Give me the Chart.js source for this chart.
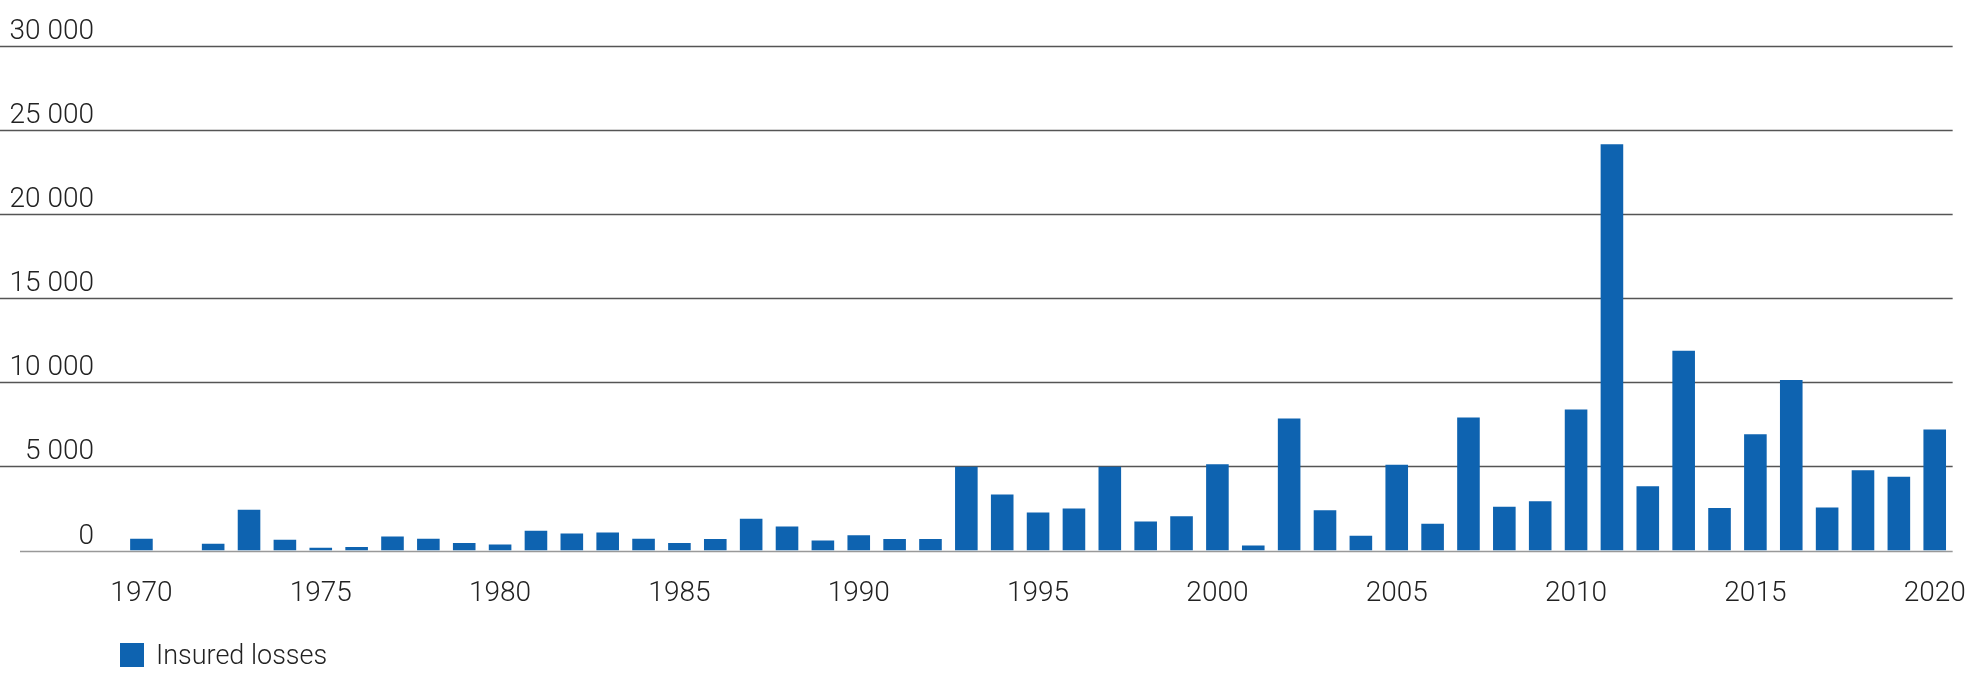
<!DOCTYPE html>
<html><head><meta charset="utf-8">
<script src="https://cdn.jsdelivr.net/npm/chart.js@4"></script>
<style>
html,body{margin:0;padding:0;background:#fff;}
#wrap{position:relative;width:1985px;height:699px;}
#legend{position:absolute;left:120px;top:639px;font:300 27px Roboto,"Liberation Sans",sans-serif;color:#222;display:flex;align-items:center;}
#legend span.box{display:inline-block;width:24px;height:24px;background:#0e63b0;margin-right:12px;}
</style></head>
<body><div id="wrap"><canvas id="c" width="1985" height="699"></canvas>
<div id="legend"><span class="box"></span>Insured losses</div></div>
<script>
const years = [];
for (let y = 1970; y <= 2020; y++) years.push(String(y));
const insuredLosses = [700,0,400,2420,640,160,215,825,700,450,350,1170,1010,1065,700,450,
680,1880,1430,600,900,680,680,4970,3320,2260,2490,4970,1730,2030,5120,300,7840,2390,875,
5090,1590,7900,2600,2920,8380,24140,3820,11860,2520,6900,10130,2550,4770,4380,7190];
const yTicks = [0,5000,10000,15000,20000,25000,30000];
const yTickLabels = ['0','5 000','10 000','15 000','20 000','25 000','30 000'];
const font = 'Roboto, "Liberation Sans", sans-serif';

const gridPlugin = {
  id:'grid',
  beforeDatasetsDraw(chart){
    const ctx = chart.ctx, y = chart.scales.y, area = chart.chartArea;
    ctx.save();
    yTicks.forEach((v,i)=>{
      const py = Math.round(y.getPixelForValue(v))+0.5;
      ctx.strokeStyle = v===0 ? '#999' : '#555';
      ctx.lineWidth = 1.5;
      ctx.beginPath(); ctx.moveTo(v===0?20:0, py); ctx.lineTo(area.right, py); ctx.stroke();
      ctx.fillStyle = '#222';
      ctx.font = '300 28px ' + font;
      ctx.textAlign = 'right'; ctx.textBaseline = 'alphabetic';
      ctx.fillText(yTickLabels[i], 94, py - 8);
    });
    ctx.restore();
  }
};

new Chart(document.getElementById('c'), {
  type:'bar',
  data:{labels:years, datasets:[{label:'Insured losses', data:insuredLosses, backgroundColor:'#0e63b0',
    categoryPercentage:1, barPercentage:0.63}]},
  options:{
    responsive:false, animation:false,
    layout:{padding:{left:123.5, right:22, top:45.5, bottom:0}},
    plugins:{legend:{display:false}, tooltip:{enabled:false}},
    scales:{
      x:{grid:{display:false}, border:{display:false},
         ticks:{autoSkip:false, maxRotation:0, padding:19, color:'#222', font:{family:font, size:28, weight:300},
           callback:(v,i)=> (1970+i)%5===0 ? years[i] : ''},
         afterFit:(s)=>{s.height = 148.5;}},
      y:{display:false, min:0, max:30000}
    }
  },
  plugins:[gridPlugin]
});
</script></body></html>
